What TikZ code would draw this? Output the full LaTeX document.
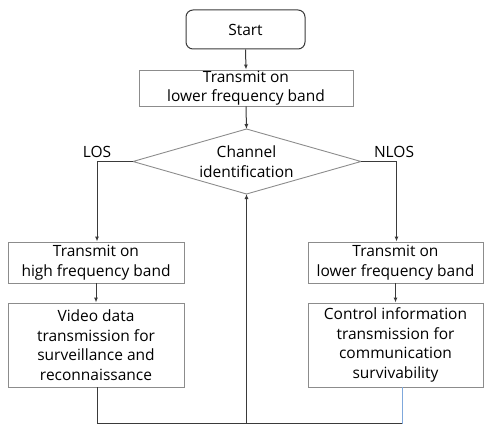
\documentclass[tikz,border=0pt]{standalone}
\usepackage{fontspec}
\setmainfont{Open Sans}
\usetikzlibrary{arrows.meta,calc}
\definecolor{boxgray}{HTML}{8C8C8C}
\definecolor{linegray}{HTML}{3A3A3A}
\definecolor{linkblue}{HTML}{7FA8DC}
\tikzset{
  every node/.style={font=\fontsize{15.5}{19.5}\selectfont, text=black},
  procbox/.style={draw=boxgray, line width=0.9pt, align=center, inner sep=0pt},
  startbox/.style={draw=linegray, line width=1pt, rounded corners=7pt, align=center, inner sep=0pt},
  conn/.style={draw=linegray, line width=1pt},
  arr/.style={conn, -{Latex[length=5pt,width=4pt]}},
}
\begin{document}
\begin{tikzpicture}[x=1pt,y=-1pt]
\useasboundingbox (0,0) rectangle (484,425);

% terminal and first transmission step
\node[startbox, minimum width=119pt, minimum height=39pt] (start) at (245.5,29.5) {Start};
\node[procbox, minimum width=214pt, minimum height=36pt] (txlow) at (246,88) {Transmit on\\lower frequency band};

% decision diamond
\coordinate (dt) at (246.5,129);
\coordinate (db) at (246.5,194);
\coordinate (dl) at (133,161.5);
\coordinate (dr) at (361,161.5);
\draw[draw=boxgray, line width=0.9pt] (dt) -- (dr) -- (db) -- (dl) -- cycle;
\node[align=center] (dtext) at (246.5,161.5) {Channel\\identification};

% branch labels
\node (los) at (97,152) {LOS};
\node (nlos) at (394,152) {NLOS};

% LOS branch
\node[procbox, minimum width=176pt, minimum height=41pt] (lb1) at (96,262.5) {Transmit on\\high frequency band};
\node[procbox, minimum width=176pt, minimum height=84pt] (lb2) at (96,345) {Video data\\transmission for\\surveillance and\\reconnaissance};

% NLOS branch
\node[procbox, minimum width=175pt, minimum height=41pt] (rb1) at (395.5,262.5) {Transmit on\\lower frequency band};
\node[procbox, minimum width=175pt, minimum height=84pt] (rb2) at (395.5,345) {Control information\\transmission for\\communication\\survivability};

% connectors
\draw[arr] (start.south) -- (txlow.north);
\draw[arr] (txlow.south) -- (dt);
\draw[arr] (dl) -| ([xshift=1pt]lb1.north);
\draw[arr] (dr) -| ([xshift=1pt]rb1.north);
\draw[arr] (lb1.south) -- (lb2.south |- lb2.north);
\draw[arr] (rb1.south) -- (rb2.south |- rb2.north);

% feedback loop to the decision
\coordinate (bot) at (246.5,423.5);
\coordinate (rbx) at ([xshift=6.5pt]rb2.south);
\draw[conn] ([xshift=1pt]lb2.south) |- (bot);
\draw[draw=linkblue, line width=1pt] (rbx) -- (rbx |- bot);
\draw[conn] (rbx |- bot) -- (bot);
\draw[arr] (bot) -- (db);
\end{tikzpicture}
\end{document}
